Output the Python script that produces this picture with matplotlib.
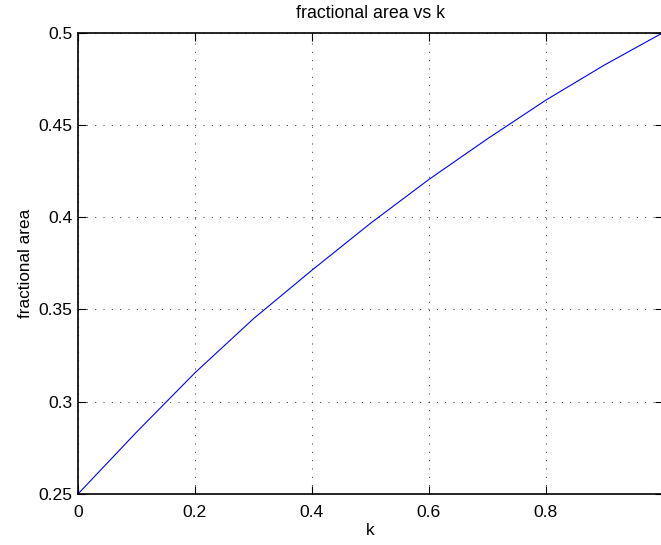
import numpy as np
import matplotlib
matplotlib.use('Agg')
import matplotlib.pyplot as plt

# --- Data ---
k_values = [0.0, 0.1, 0.2, 0.3, 0.4, 0.5, 0.6, 0.7, 0.8, 0.9, 1.0]
frac_area = [0.25, 0.2835, 0.3157, 0.3450, 0.3713, 0.3967, 0.4205, 0.4425, 0.4635, 0.4825, 0.5]

x_ticks = [0.0, 0.2, 0.4, 0.6, 0.8]
x_tick_labels = ['0', '0.2', '0.4', '0.6', '0.8']
y_ticks = [0.25, 0.3, 0.35, 0.4, 0.45, 0.5]
y_tick_labels = ['0.25', '0.3', '0.35', '0.4', '0.45', '0.5']

plt.rcParams['font.family'] = ['Liberation Sans', 'DejaVu Sans']
plt.rcParams['font.size'] = 12.6

# --- Figure ---
fig = plt.figure(figsize=(6.61, 5.45), dpi=100)
ax = fig.add_axes([0.1180, 0.0936, 0.8850, 0.8464])

ax.plot(k_values, frac_area, color='#0000ff', linewidth=0.8)

ax.set_xlim(0, 1.0)
ax.set_ylim(0.25, 0.5)
ax.set_xticks(x_ticks)
ax.set_xticklabels(x_tick_labels)
ax.set_yticks(y_ticks)
ax.set_yticklabels(y_tick_labels)

# MATLAB-ish look: inward ticks on all sides, dotted grid
ax.tick_params(direction='in', length=6, width=0.8, top=True, right=True, colors='k')
ax.tick_params(axis='x', pad=8)
ax.tick_params(axis='y', pad=4.2)
for sp in ax.spines.values():
    sp.set_linewidth(1.2)
ax.grid(True, color='0.25', linestyle=(0, (1, 7)), linewidth=0.75)

ax.set_title('fractional area vs k', fontsize=12.8, pad=10.8)
ax.set_xlabel('k', labelpad=2)
ax.set_ylabel('fractional area', fontsize=12.3, labelpad=3.5)

fig.savefig('out.png', dpi=100)
